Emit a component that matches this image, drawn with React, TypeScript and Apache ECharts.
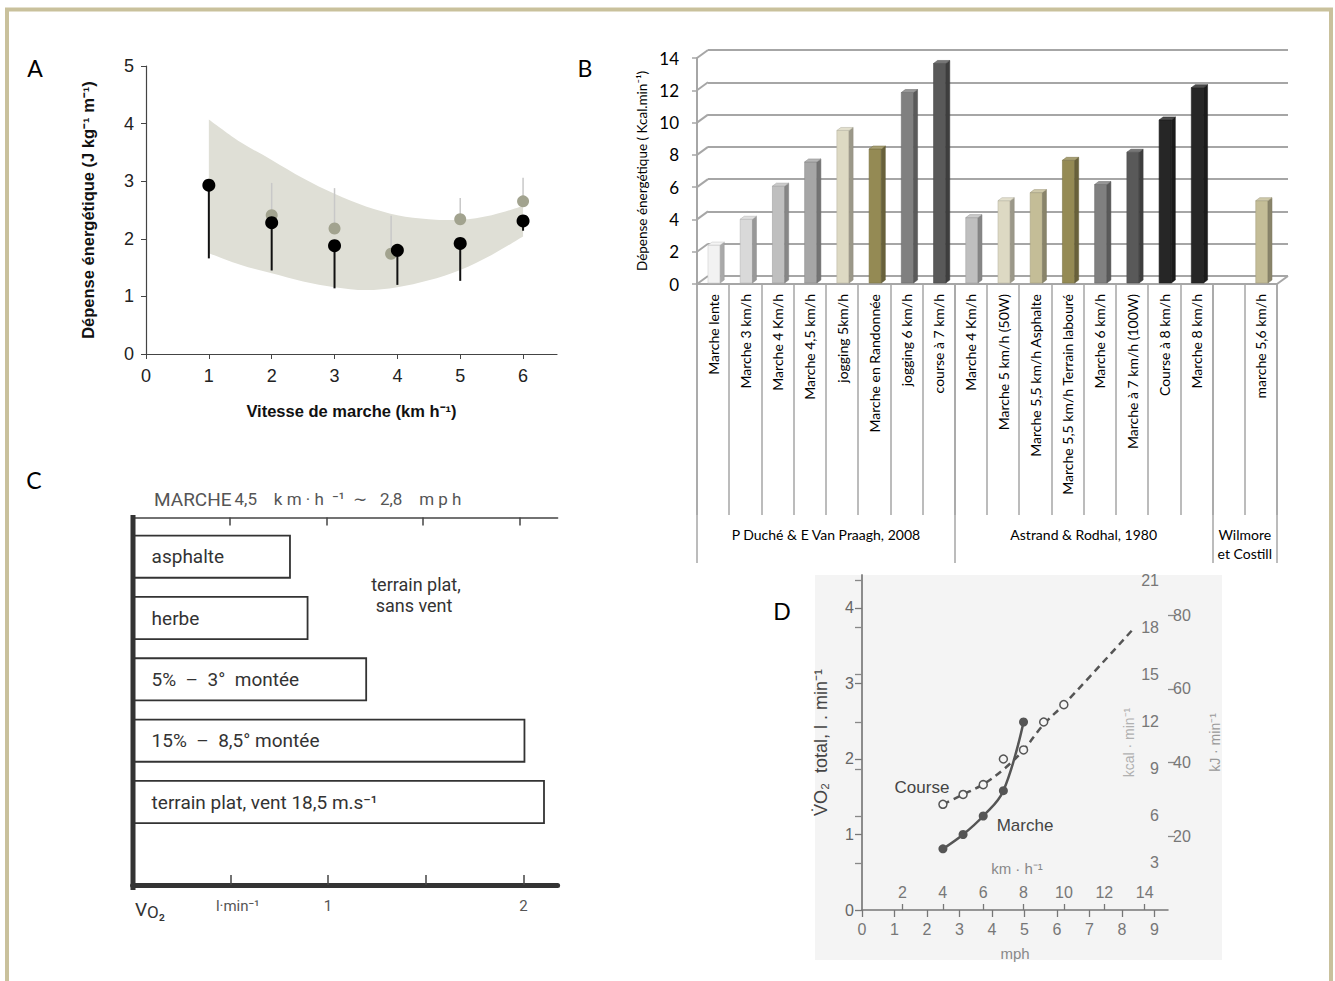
import React, { useEffect, useRef } from 'react';
import * as echarts from 'echarts';

// ---------- Panel A data ----------
const speedsA = [1, 2, 3, 4, 5, 6];
const blackMean = [2.93, 2.28, 1.88, 1.8, 1.92, 2.31];
const blackLow = [1.66, 1.45, 1.14, 1.2, 1.27, 2.14];
const grayX = [2, 3, 3.9, 5, 6];
const grayMean = [2.41, 2.18, 1.74, 2.34, 2.65];
const grayHigh = [2.97, 2.88, 2.4, 2.71, 3.06];
const bandX = [1, 1.5, 2, 2.5, 3, 3.5, 4, 4.5, 5, 5.5, 6];
const bandLow = [1.75, 1.55, 1.4, 1.26, 1.16, 1.11, 1.16, 1.28, 1.46, 1.72, 2.04];
const bandHigh = [4.07, 3.68, 3.37, 3.05, 2.78, 2.56, 2.41, 2.34, 2.33, 2.41, 2.57];
const ticksAX = [0, 1, 2, 3, 4, 5, 6];

// ---------- Panel B data ----------
const catsB = [
  'Marche lente', 'Marche 3 km/h', 'Marche 4 Km/h', 'Marche 4,5 km/h', 'jogging 5km/h',
  'Marche en Randonnée', 'jogging 6 km/h', 'course à 7 km/h',
  'Marche 4 Km/h', 'Marche 5 km/h (50W)', 'Marche 5,5 km/h Asphalte', 'Marche 5,5 km/h Terrain labouré',
  'Marche 6 km/h', 'Marche à 7 km/h (100W)', 'Course à 8 km/h', 'Marche 8 km/h',
  '', 'marche 5,6 km/h',
];
const valuesB: (number | null)[] = [
  2.35, 3.95, 6.0, 7.5, 9.45, 8.3, 11.8, 13.6,
  4.05, 5.1, 5.6, 7.6, 6.1, 8.1, 10.1, 12.1,
  null, 5.1,
];
const colorsB = [
  '#f2f2f2', '#d9d9d9', '#bfbfbf', '#a6a6a6', '#ddd9c3', '#948a54', '#808080', '#595959',
  '#bfbfbf', '#ddd9c3', '#c4bd97', '#948a54', '#808080', '#595959', '#262626', '#262626',
  '#ffffff', '#c4bd97',
];
const ticksB = [0, 2, 4, 6, 8, 10, 12, 14];
const groupNamesB = ['P Duché & E Van Praagh, 2008', 'Astrand & Rodhal, 1980', 'Wilmore\net Costill'];
const groupCentersB = [4, 12, 17];
const groupEdgesB = [0, 8, 16, 18];

// ---------- Panel C data ----------
const catsC = ['asphalte', 'herbe', '5%  –  3°  montée', '15%  –  8,5° montée', 'terrain plat, vent 18,5 m.s⁻¹', ''];
const valuesC = [0.81, 0.9, 1.2, 2.01, 2.11];
const ticksC = [0.5, 1, 1.5, 2];
const labelsC = [0.5, 1, 2];

// ---------- Panel D data ----------
const marcheMph = [2.49, 3.11, 3.73, 4.35, 4.97];
const marcheVO2 = [0.81, 1.0, 1.245, 1.58, 2.49];
const courseMph = [2.49, 3.11, 3.73, 4.35, 4.97, 5.59, 6.21];
const courseVO2 = [1.4, 1.53, 1.66, 2.0, 2.12, 2.49, 2.72];
const courseLineMph = [2.49, 3.11, 3.73, 4.35, 4.97, 5.59, 6.21, 8.3];
const courseLineVO2 = [1.4, 1.53, 1.665, 1.86, 2.12, 2.46, 2.72, 3.7];
const mphTicks = [0, 1, 2, 3, 4, 5, 6, 7, 8, 9];
const kmhTicks = [2, 4, 6, 8, 10, 12, 14];
const vo2Ticks = [0, 1, 2, 3, 4];
const kcalTicks = [3, 6, 9, 12, 15, 18, 21];
const kjTicks = [20, 40, 60, 80];

const FA = "'Liberation Sans', Arial, sans-serif";
const FB = "Lato, 'Open Sans', sans-serif";
const FC = "Roboto, 'Liberation Sans', sans-serif";

function shade(hex: string, f: number) {
  const n = parseInt(hex.slice(1), 16);
  const r = (n >> 16) & 255, g = (n >> 8) & 255, b = n & 255;
  const m = (c: number) => Math.max(0, Math.min(255, Math.round(f >= 0 ? c + (255 - c) * f : c * (1 + f))));
  return `rgb(${m(r)},${m(g)},${m(b)})`;
}

// Catmull-Rom spline through pixel points, as SVG cubic segments
function splineSegs(pts: number[][]) {
  let d = '';
  const n = pts.length;
  for (let i = 0; i < n - 1; i++) {
    const p0 = pts[Math.max(i - 1, 0)], p1 = pts[i], p2 = pts[i + 1], p3 = pts[Math.min(i + 2, n - 1)];
    const c1 = [p1[0] + (p2[0] - p0[0]) / 6, p1[1] + (p2[1] - p0[1]) / 6];
    const c2 = [p2[0] - (p3[0] - p1[0]) / 6, p2[1] - (p3[1] - p1[1]) / 6];
    d += ` C ${c1[0]} ${c1[1]} ${c2[0]} ${c2[1]} ${p2[0]} ${p2[1]}`;
  }
  return d;
}

const DX = 11, DY = 8;
const gridLineB = '#a6a6a6';

function buildOption(): any {
  const errorBar = (color: string, width: number) => (params: any, api: any) => {
    const p1 = api.coord([api.value(0), api.value(1)]);
    const p2 = api.coord([api.value(0), api.value(2)]);
    return { type: 'line', shape: { x1: p1[0], y1: p1[1], x2: p2[0], y2: p2[1] }, style: { stroke: color, lineWidth: width } };
  };

  const barsB = valuesB
    .map((v, i) => (v == null ? null : [i, v]))
    .filter((d) => d !== null);

  return {
    animation: false,
    backgroundColor: '#ffffff',
    grid: [
      { left: 146, top: 66, width: 411, height: 288, outerBoundsMode: 'none' },
      { left: 697, top: 58, width: 580, height: 226, outerBoundsMode: 'none' },
      { left: 697 + DX, top: 58 - DY, width: 580, height: 226, outerBoundsMode: 'none' },
      { left: 132.6, top: 526, width: 425, height: 368, outerBoundsMode: 'none' },
      { left: 862, top: 575, width: 306, height: 335, outerBoundsMode: 'none' },
    ],
    xAxis: [
      {
        gridIndex: 0, type: 'value', min: 0, max: 6.54,
        axisLine: { show: true, lineStyle: { color: '#444', width: 1.2 } },
        axisTick: { show: true, length: 5, customValues: ticksAX, lineStyle: { color: '#444' } },
        axisLabel: { customValues: ticksAX, fontSize: 18, color: '#222', fontFamily: FA, margin: 13 },
        splitLine: { show: false },
        name: 'Vitesse de marche (km h⁻¹)', nameLocation: 'middle', nameGap: 48, nameMoveOverlap: false,
        nameTextStyle: { fontSize: 16.5, fontWeight: 'bold', color: '#111', fontFamily: FA },
      },
      {
        gridIndex: 1, type: 'category', data: catsB, boundaryGap: true,
        axisLine: { show: true, lineStyle: { color: gridLineB, width: 2 } },
        axisTick: { show: true, interval: 0, length: 231, lineStyle: { color: gridLineB, width: 1.5 } },
        axisLabel: { interval: 0, rotate: 90, margin: 10, fontSize: 14, fontFamily: FB, color: '#000' },
        splitLine: { show: false },
      },
      {
        gridIndex: 1, type: 'value', min: 0, max: 18, position: 'bottom',
        axisLine: { show: false },
        axisTick: { show: true, customValues: groupEdgesB, length: 279, lineStyle: { color: gridLineB, width: 1.5 } },
        axisLabel: {
          customValues: groupCentersB, margin: 241, fontSize: 14, lineHeight: 19, fontFamily: FB, color: '#000',
          formatter: (v: number) => groupNamesB[groupCentersB.indexOf(v)] ?? '',
        },
        splitLine: { show: false },
      },
      { gridIndex: 2, type: 'category', data: catsB, show: false },
      {
        gridIndex: 3, type: 'value', min: 0, max: 2.194, position: 'top', offset: 8.5,
        axisLine: { show: true, lineStyle: { color: '#444', width: 1.5 } },
        axisTick: { show: true, inside: true, length: 8, customValues: ticksC, lineStyle: { color: '#444', width: 1.5 } },
        axisLabel: { show: false },
        splitLine: { show: false },
      },
      {
        gridIndex: 3, type: 'value', min: 0, max: 2.175, position: 'bottom', offset: -9,
        axisLine: { show: true, lineStyle: { color: '#333', width: 5 } },
        axisTick: { show: true, inside: true, length: 10, customValues: ticksC, lineStyle: { color: '#444', width: 1.5 } },
        axisLabel: {
          customValues: labelsC, margin: 13, fontSize: 15, color: '#555', fontFamily: FC,
          formatter: (v: number) => (v === 0.5 ? '    l·min⁻¹' : String(v)),
        },
        splitLine: { show: false },
      },
      {
        gridIndex: 4, type: 'value', min: 0, max: 9.415,
        axisLine: { show: true, lineStyle: { color: '#777', width: 1.5 } },
        axisTick: { show: true, length: 7, customValues: mphTicks, lineStyle: { color: '#777', width: 1.3 } },
        axisLabel: { customValues: mphTicks, fontSize: 16, color: '#777', fontFamily: FA, margin: 11 },
        splitLine: { show: false },
        name: 'mph', nameLocation: 'middle', nameGap: 36, nameMoveOverlap: false,
        nameTextStyle: { color: '#888', fontSize: 15, fontFamily: FA },
      },
      {
        gridIndex: 4, type: 'value', min: 0, max: 15.152, position: 'bottom',
        axisLine: { show: false },
        axisTick: { show: true, inside: true, length: 6, customValues: kmhTicks, lineStyle: { color: '#777', width: 1.3 } },
        axisLabel: { inside: true, customValues: kmhTicks, fontSize: 16, color: '#777', fontFamily: FA, margin: 10 },
        splitLine: { show: false },
      },
    ],
    yAxis: [
      {
        gridIndex: 0, type: 'value', min: 0, max: 5, interval: 1,
        axisLine: { show: true, lineStyle: { color: '#444', width: 1.2 } },
        axisTick: { show: true, length: 5, lineStyle: { color: '#444' } },
        axisLabel: { fontSize: 18, color: '#222', fontFamily: FA, margin: 12 },
        splitLine: { show: false },
        name: 'Dépense énergétique (J kg⁻¹ m⁻¹)', nameLocation: 'middle', nameGap: 50, nameMoveOverlap: false,
        nameTextStyle: { fontSize: 16.5, fontWeight: 'bold', color: '#111', fontFamily: FA },
      },
      {
        gridIndex: 1, type: 'value', min: 0, max: 14, interval: 2,
        axisLine: { show: true, lineStyle: { color: gridLineB, width: 2 } },
        axisTick: { show: true, length: 5, lineStyle: { color: gridLineB, width: 1.5 } },
        axisLabel: { fontSize: 17, color: '#000', fontFamily: FB, margin: 18 },
        splitLine: { show: false },
        name: 'Dépense énergétique ( Kcal.min⁻¹)', nameLocation: 'middle', nameGap: 48, nameMoveOverlap: false,
        nameTextStyle: { fontSize: 13.5, color: '#000', fontFamily: FB },
      },
      {
        gridIndex: 2, type: 'value', min: 0, max: 14, interval: 2,
        axisLine: { show: false }, axisTick: { show: false }, axisLabel: { show: false },
        splitLine: { show: true, lineStyle: { color: gridLineB, width: 2 } },
      },
      {
        gridIndex: 3, type: 'category', data: catsC, inverse: true,
        axisLine: { show: false }, axisTick: { show: false }, axisLabel: { show: false },
        splitLine: { show: false },
      },
      {
        gridIndex: 4, type: 'value', min: 0, max: 4.437,
        axisLine: { show: true, lineStyle: { color: '#777', width: 1.5 } },
        axisTick: { show: true, length: 7, customValues: vo2Ticks, lineStyle: { color: '#777', width: 1.3 } },
        axisLabel: { customValues: vo2Ticks, fontSize: 16, color: '#666', fontFamily: FA, margin: 8 },
        splitLine: { show: false },
        name: 'V̇O₂  total, l . min⁻¹', nameLocation: 'middle', nameGap: 32, nameMoveOverlap: false,
        nameTextStyle: { fontSize: 18, color: '#444', fontFamily: FA },
      },
      {
        gridIndex: 4, type: 'value', position: 'right', min: 0, max: 21.36,
        axisLine: { show: true, lineStyle: { color: '#888', width: 1.5 } },
        axisTick: { show: true, inside: true, length: 7, customValues: kcalTicks, lineStyle: { color: '#888', width: 1.3 } },
        axisLabel: { inside: true, customValues: kcalTicks, fontSize: 16, color: '#777', fontFamily: FA, margin: 9 },
        splitLine: { show: false },
        name: 'kcal · min⁻¹', nameLocation: 'middle', nameRotate: 90, nameGap: -46, nameMoveOverlap: false,
        nameTextStyle: { fontSize: 14, color: '#b0b0b0', fontFamily: FA },
      },
      {
        gridIndex: 4, type: 'value', position: 'right', min: 0, max: 90.85,
        axisLine: { show: false },
        axisTick: { show: true, length: 7, customValues: kjTicks, lineStyle: { color: '#888', width: 1.3 } },
        axisLabel: { customValues: kjTicks, fontSize: 16, color: '#777', fontFamily: FA, margin: 5 },
        splitLine: { show: false },
        name: 'kJ · min⁻¹', nameLocation: 'middle', nameRotate: 90, nameGap: 40, nameMoveOverlap: false,
        nameTextStyle: { fontSize: 14, color: '#999', fontFamily: FA },
      },
    ],
    series: [
      // ---- Panel A ----
      {
        type: 'custom', xAxisIndex: 0, yAxisIndex: 0, z: 1, silent: true,
        data: [[bandX[0], bandLow[0]]],
        renderItem: (params: any, api: any) => {
          const up = bandX.map((x, i) => api.coord([x, bandHigh[i]]));
          const lo = bandX.map((x, i) => api.coord([x, bandLow[i]])).reverse();
          const d = `M ${up[0][0]} ${up[0][1]}` + splineSegs(up) + ` L ${lo[0][0]} ${lo[0][1]}` + splineSegs(lo) + ' Z';
          return { type: 'path', shape: { pathData: d }, style: { fill: '#dfdfd6' } };
        },
      },
      {
        type: 'custom', xAxisIndex: 0, yAxisIndex: 0, z: 2, silent: true,
        data: grayX.map((x, i) => [x, grayMean[i], grayHigh[i]]),
        renderItem: errorBar('#c8c8c8', 1.5),
      },
      {
        type: 'scatter', xAxisIndex: 0, yAxisIndex: 0, z: 3, symbolSize: 12,
        data: grayX.map((x, i) => [x, grayMean[i]]),
        itemStyle: { color: '#a2a38f', opacity: 1 },
      },
      {
        type: 'custom', xAxisIndex: 0, yAxisIndex: 0, z: 4, silent: true,
        data: speedsA.map((x, i) => [x, blackMean[i], blackLow[i]]),
        renderItem: errorBar('#111', 2),
      },
      {
        type: 'scatter', xAxisIndex: 0, yAxisIndex: 0, z: 5, symbolSize: 13,
        data: speedsA.map((x, i) => [x, blackMean[i]]),
        itemStyle: { color: '#000', opacity: 1 },
      },
      // ---- Panel B ----
      {
        type: 'custom', xAxisIndex: 1, yAxisIndex: 1, silent: true, z: 1,
        data: ticksB.map((v) => [0, v]),
        renderItem: (params: any, api: any) => {
          const cs = params.coordSys;
          const v = api.value(1);
          const y = api.coord([0, v])[1];
          const st = { stroke: gridLineB, lineWidth: 2 };
          const children: any[] = [
            { type: 'line', shape: { x1: cs.x, y1: y, x2: cs.x + DX, y2: y - DY }, style: st },
          ];
          if (v === 0) {
            children.push({ type: 'line', shape: { x1: cs.x + cs.width, y1: y, x2: cs.x + cs.width + DX, y2: y - DY }, style: st });
          }
          return { type: 'group', children };
        },
      },
      {
        type: 'custom', xAxisIndex: 1, yAxisIndex: 1, silent: true, z: 3,
        data: barsB,
        renderItem: (params: any, api: any) => {
          const i = api.value(0);
          const v = api.value(1);
          const base = api.coord([i, 0]);
          const top = api.coord([i, v]);
          const bw = api.size([1, 0])[0];
          const fw = bw * 0.38;
          const cx = base[0] + 1;
          const x0 = cx - fw / 2, x1 = cx + fw / 2;
          const yb = base[1] - 1, yt = top[1] - 1;
          const dx = 4, dy = 3;
          const c = colorsB[i];
          return {
            type: 'group',
            children: [
              { type: 'rect', shape: { x: x0, y: yt, width: fw, height: yb - yt }, style: { fill: c, stroke: shade(c, -0.15), lineWidth: 0.6 } },
              { type: 'polygon', shape: { points: [[x1, yb], [x1 + dx, yb - dy], [x1 + dx, yt - dy], [x1, yt]] }, style: { fill: shade(c, -0.3), stroke: shade(c, -0.35), lineWidth: 0.5 } },
              { type: 'polygon', shape: { points: [[x0, yt], [x0 + dx, yt - dy], [x1 + dx, yt - dy], [x1, yt]] }, style: { fill: shade(c, 0.18), stroke: shade(c, -0.2), lineWidth: 0.5 } },
            ],
          };
        },
      },
      // ---- Panel C ----
      {
        type: 'bar', xAxisIndex: 5, yAxisIndex: 3, barWidth: 44,
        data: valuesC,
        itemStyle: { color: '#ffffff', borderColor: '#333', borderWidth: 1.8 },
        label: {
          show: true, position: 'insideLeft', distance: 19, formatter: '{b}',
          fontSize: 19, color: '#333', fontFamily: FC,
        },
      },
      // ---- Panel D ----
      {
        type: 'line', xAxisIndex: 6, yAxisIndex: 4, smooth: 0.35, symbol: 'none', z: 3,
        data: courseLineMph.map((x, i) => [x, courseLineVO2[i]]),
        lineStyle: { color: '#555', width: 2.5, type: [7, 5] },
      },
      {
        type: 'scatter', xAxisIndex: 6, yAxisIndex: 4, symbol: 'circle', symbolSize: 8, z: 4,
        data: courseMph.map((x, i) => [x, courseVO2[i]]),
        itemStyle: { color: '#f6f6f6', borderColor: '#555', borderWidth: 1.5, opacity: 1 },
      },
      {
        type: 'line', xAxisIndex: 6, yAxisIndex: 4, smooth: 0.4, symbol: 'circle', symbolSize: 9, z: 5,
        data: marcheMph.map((x, i) => [x, marcheVO2[i]]),
        lineStyle: { color: '#555', width: 2.5 },
        itemStyle: { color: '#555' },
      },
    ],
    graphic: [
      { type: 'rect', z: 100, silent: true, shape: { x: 7, y: 9.5, width: 1324, height: 1100 }, style: { fill: 'none', stroke: '#c9c19c', lineWidth: 4 } },
      { type: 'rect', z: -10, silent: true, shape: { x: 815, y: 575, width: 407, height: 385 }, style: { fill: '#f4f4f4' } },
      { type: 'text', x: 35, y: 68, style: { text: 'A', fontSize: 23, fontFamily: FB, fill: '#000', textAlign: 'center', textVerticalAlign: 'middle' } },
      { type: 'text', x: 585, y: 68, style: { text: 'B', fontSize: 23, fontFamily: FB, fill: '#000', textAlign: 'center', textVerticalAlign: 'middle' } },
      { type: 'text', x: 34, y: 480, style: { text: 'C', fontSize: 23, fontFamily: FB, fill: '#000', textAlign: 'center', textVerticalAlign: 'middle' } },
      { type: 'text', x: 782, y: 611, style: { text: 'D', fontSize: 23, fontFamily: FB, fill: '#000', textAlign: 'center', textVerticalAlign: 'middle' } },
      // panel C decorations
      { type: 'line', z: 10, silent: true, shape: { x1: 133, y1: 515, x2: 133, y2: 890 }, style: { stroke: '#333', lineWidth: 5 } },
      {
        type: 'text', x: 154, y: 499,
        style: {
          text: '{a|MARCHE} {b|4,5    k m · h  ⁻¹  ∼   2,8    m p h}',
          fontFamily: FC, textVerticalAlign: 'middle', fill: '#555',
          rich: { a: { fontSize: 19, fill: '#555', fontFamily: FC }, b: { fontSize: 17, fill: '#555', fontFamily: FC } },
        },
      },
      { type: 'text', x: 416, y: 584, style: { text: 'terrain plat,', fontSize: 18, fontFamily: FC, fill: '#333', textAlign: 'center', textVerticalAlign: 'middle' } },
      { type: 'text', x: 414, y: 605, style: { text: 'sans vent', fontSize: 18, fontFamily: FC, fill: '#333', textAlign: 'center', textVerticalAlign: 'middle' } },
      {
        type: 'text', x: 135, y: 909,
        style: {
          text: '{v|V}{o|O₂}', textVerticalAlign: 'middle', fill: '#333',
          rich: { v: { fontSize: 19, fill: '#333', fontFamily: FC }, o: { fontSize: 17, fill: '#333', fontFamily: FC, padding: [6, 0, 0, 0] } },
        },
      },
      // panel D annotations
      { type: 'text', x: 922, y: 787, style: { text: 'Course', fontSize: 17, fontFamily: FA, fill: '#444', textAlign: 'center', textVerticalAlign: 'middle' } },
      { type: 'text', x: 1025, y: 825, style: { text: 'Marche', fontSize: 17, fontFamily: FA, fill: '#444', textAlign: 'center', textVerticalAlign: 'middle' } },
      { type: 'text', x: 1017, y: 868, style: { text: 'km · h⁻¹', fontSize: 15, fontFamily: FA, fill: '#888', textAlign: 'center', textVerticalAlign: 'middle' } },
    ],
  };
}

const App: React.FC = () => {
  const ref = useRef<HTMLDivElement>(null);
  useEffect(() => {
    if (!ref.current) return;
    const chart = echarts.init(ref.current, null, { renderer: 'svg' });
    chart.setOption(buildOption());
    return () => chart.dispose();
  }, []);
  return <div ref={ref} style={{ position: 'fixed', left: 0, top: 0, width: 1335, height: 981 }} />;
};

export default App;
